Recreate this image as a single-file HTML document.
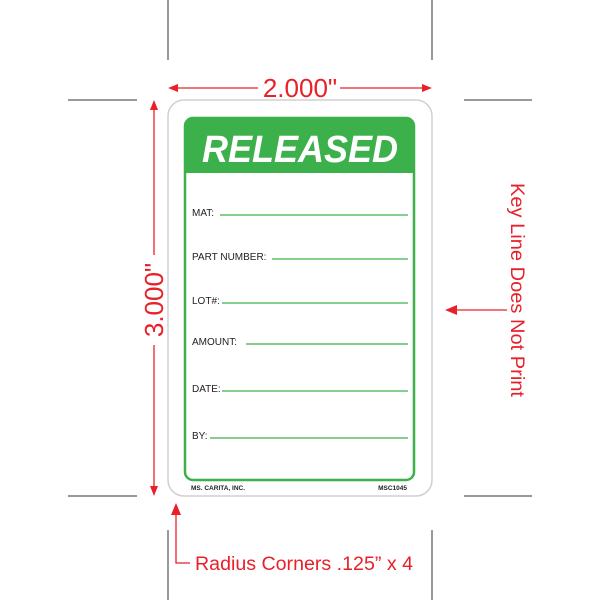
<!DOCTYPE html>
<html><head><style>body{margin:0;background:#fff;}</style></head><body>
<svg width="600" height="600" viewBox="0 0 600 600" xmlns="http://www.w3.org/2000/svg" font-family="Liberation Sans, sans-serif">
<g stroke="#333" stroke-width="1">
<line x1="168" y1="0" x2="168" y2="60"/><line x1="432" y1="0" x2="432" y2="60"/>
<line x1="168" y1="530" x2="168" y2="600"/><line x1="432" y1="530" x2="432" y2="600"/>
<line x1="68" y1="100" x2="137" y2="100"/><line x1="464" y1="100" x2="532" y2="100"/>
<line x1="68" y1="496" x2="137" y2="496"/><line x1="464" y1="496" x2="532" y2="496"/>
</g>
<rect x="168" y="100" width="264" height="396" rx="16" fill="#fff" stroke="#d0d0d0" stroke-width="1.5"/>
<rect x="185" y="118" width="229" height="362" rx="8" fill="#fff" stroke="#3cb04a" stroke-width="2.5"/>
<path d="M185 173 V126 a8 8 0 0 1 8 -8 H406 a8 8 0 0 1 8 8 V173 Z" fill="#3cb04a"/>
<text x="300" y="162" text-anchor="middle" font-size="38" font-weight="bold" font-style="italic" fill="#fff" textLength="196" lengthAdjust="spacingAndGlyphs">RELEASED</text>
<g font-size="10" fill="#222">
<text x="192" y="216">MAT:</text>
<text x="192" y="260">PART NUMBER:</text>
<text x="192" y="304">LOT#:</text>
<text x="192" y="345">AMOUNT:</text>
<text x="192" y="392">DATE:</text>
<text x="192" y="439">BY:</text>
</g>
<g stroke="#3cb04a" stroke-width="1.2">
<line x1="220" y1="215" x2="408" y2="215"/>
<line x1="272" y1="259" x2="408" y2="259"/>
<line x1="222" y1="303" x2="408" y2="303"/>
<line x1="246" y1="344" x2="408" y2="344"/>
<line x1="222" y1="391" x2="408" y2="391"/>
<line x1="210" y1="438" x2="408" y2="438"/>
</g>
<text x="191" y="490" font-size="6.5" font-weight="bold" fill="#222">MS. CARITA, INC.</text>
<text x="407" y="490" font-size="6.5" font-weight="bold" fill="#222" text-anchor="end">MSC1045</text>
<g stroke="#e8202a" stroke-width="1.3" fill="#e8202a">
<line x1="172" y1="88" x2="258" y2="88"/><line x1="340" y1="88" x2="428" y2="88"/>
<path d="M168 88 l10 -4 v8z" stroke="none"/><path d="M432 88 l-10 -4 v8z" stroke="none"/>
<line x1="154" y1="104" x2="154" y2="255"/><line x1="154" y1="345" x2="154" y2="492"/>
<path d="M154 100 l-4 10 h8z" stroke="none"/><path d="M154 496 l-4 -10 h8z" stroke="none"/>
<line x1="450" y1="310" x2="507" y2="310"/>
<path d="M445 310 l12 -5 v10z" stroke="none"/>
<polyline points="176,515 176,563 190,563" fill="none"/>
<path d="M176 503 l-5 12 h10z" stroke="none"/>
</g>
<g fill="#e8202a">
<text x="300" y="97" text-anchor="middle" font-size="26">2.000"</text>
<text transform="translate(163,300) rotate(-90)" text-anchor="middle" font-size="26">3.000"</text>
<text transform="translate(511,290) rotate(90)" text-anchor="middle" font-size="19" textLength="214" lengthAdjust="spacingAndGlyphs">Key Line Does Not Print</text>
<text x="195" y="570" font-size="19" textLength="218" lengthAdjust="spacingAndGlyphs">Radius Corners .125” x 4</text>
</g>
</svg>
</body></html>
